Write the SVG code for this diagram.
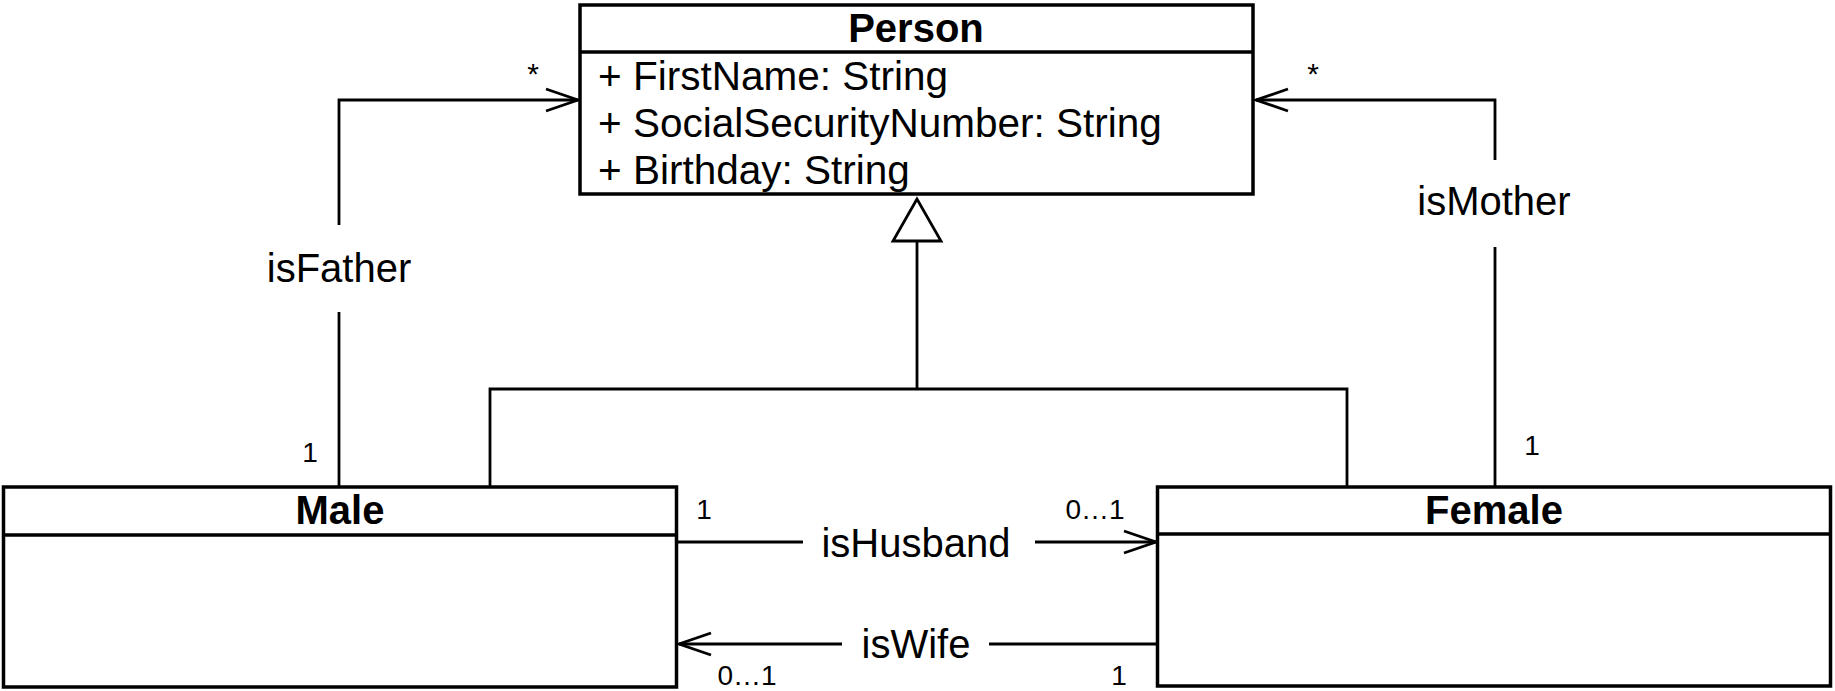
<svg xmlns="http://www.w3.org/2000/svg" width="1835" height="691" viewBox="0 0 1835 691">
<style>
.box{fill:#fff;stroke:#000;stroke-width:3.5}
.sep{stroke:#000;stroke-width:3.5}
.ln{fill:none;stroke:#000;stroke-width:2.8}
.t{font-family:"Liberation Sans",Arial,Helvetica,sans-serif;fill:#000}
.title{font-size:40px;font-weight:bold;text-anchor:middle}
.attr{font-size:40.5px}
.lbl{font-size:40px;text-anchor:middle}
.mul{font-size:28px;text-anchor:middle}
.star{font-size:30px;text-anchor:middle}
</style>
<defs>
<marker id="open" markerUnits="userSpaceOnUse" markerWidth="40" markerHeight="30" refX="32" refY="12" orient="auto" overflow="visible">
<path d="M0,1 L32,12 L0,23" fill="none" stroke="#000" stroke-width="2.8"/>
</marker>
</defs>
<rect width="1835" height="691" fill="#fff"/>
<g id="connectors">
<g id="generalization">
<path class="ln" d="M490 487 V389 H1347 V487"/>
<path class="ln" d="M917 389 V241"/>
<polygon points="917,199 893,241 941,241" fill="#fff" stroke="#000" stroke-width="2.8"/>
</g>
<g id="isFather">
<path class="ln" d="M339 487 V312"/>
<path class="ln" d="M339 225 V100 H578" marker-end="url(#open)"/>
<text class="t lbl" x="339" y="282">isFather</text>
<text class="t star" x="533" y="84">*</text>
<text class="t mul" x="310" y="462">1</text>
</g>
<g id="isMother">
<path class="ln" d="M1495 487 V247"/>
<path class="ln" d="M1495 160 V100 H1256" marker-end="url(#open)"/>
<text class="t lbl" x="1494" y="215">isMother</text>
<text class="t star" x="1313" y="84">*</text>
<text class="t mul" x="1532" y="455">1</text>
</g>
<g id="isHusband">
<path class="ln" d="M677 542 H803"/>
<path class="ln" d="M1035 542 H1156" marker-end="url(#open)"/>
<text class="t lbl" x="916" y="557">isHusband</text>
<text class="t mul" x="704" y="519">1</text>
<text class="t mul" x="1095" y="519">0…1</text>
</g>
<g id="isWife">
<path class="ln" d="M1157 644 H989"/>
<path class="ln" d="M842 644 H679" marker-end="url(#open)"/>
<text class="t lbl" x="916" y="658">isWife</text>
<text class="t mul" x="747" y="685">0…1</text>
<text class="t mul" x="1119" y="685">1</text>
</g>
</g>
<g id="Person">
<rect class="box" x="580" y="5" width="673" height="189"/>
<line class="sep" x1="580" y1="52" x2="1253" y2="52"/>
<text class="t title" x="916" y="42">Person</text>
<text class="t attr" x="598" y="90">+ FirstName: String</text>
<text class="t attr" x="598" y="137">+ SocialSecurityNumber: String</text>
<text class="t attr" x="598" y="184">+ Birthday: String</text>
</g>
<g id="Male">
<rect class="box" x="3.5" y="487" width="673" height="200"/>
<line class="sep" x1="3.5" y1="535" x2="676.5" y2="535"/>
<text class="t title" x="340" y="524">Male</text>
</g>
<g id="Female">
<rect class="box" x="1157.5" y="487" width="673" height="199"/>
<line class="sep" x1="1157.5" y1="534" x2="1830.5" y2="534"/>
<text class="t title" x="1494" y="524">Female</text>
</g>
</svg>
